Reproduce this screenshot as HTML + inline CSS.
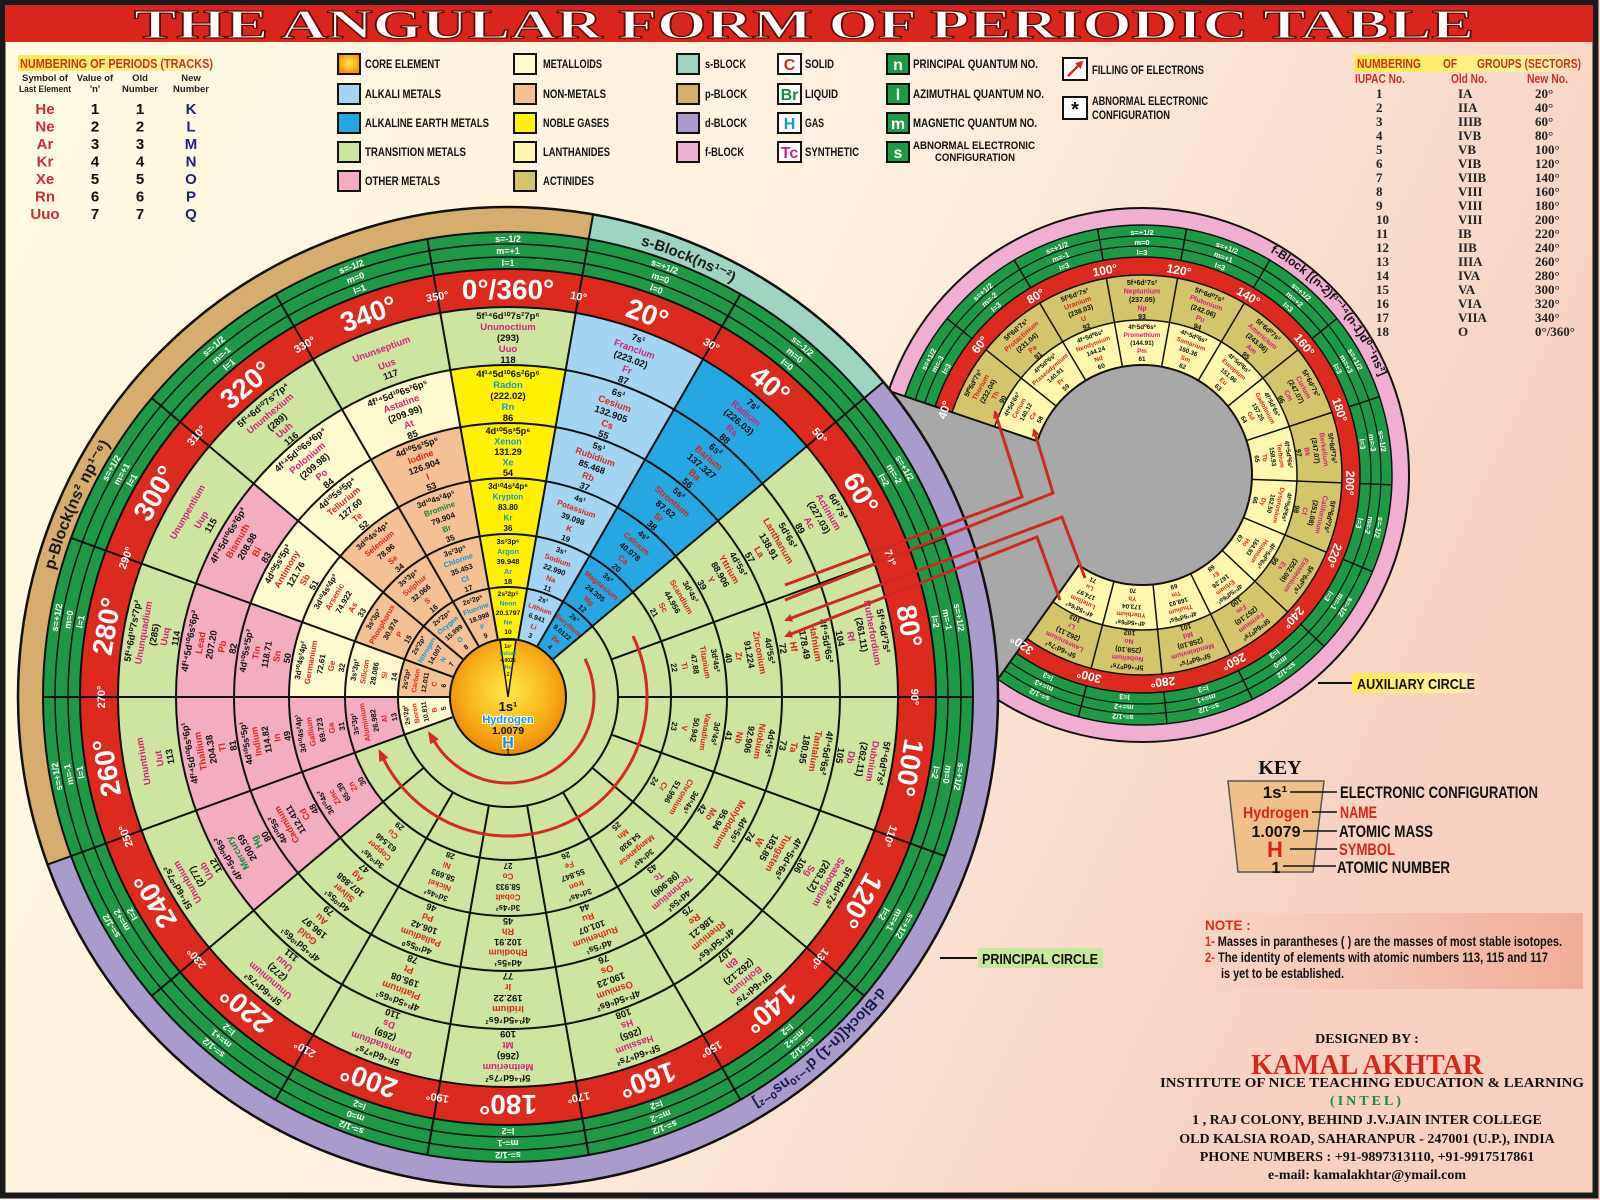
<!DOCTYPE html>
<html><head><meta charset="utf-8"><style>
html,body{margin:0;padding:0;width:1600px;height:1200px;overflow:hidden;position:relative}
svg{display:block;position:absolute;left:0;top:0}
.n{font-family:"Liberation Sans Narrow","Liberation Sans",sans-serif;font-weight:bold}
.sf{font-family:"Liberation Serif",serif;font-weight:bold}
.m{text-anchor:middle}
.c7{font-size:9.5px}.c4{font-size:9px}.c3{font-size:8px}.c2{font-size:6.8px}
.a1{font-size:7px}.a2{font-size:6.3px}
.s{fill:#d7261e}.g{fill:#1596d4}.l{fill:#138a3c}.y{fill:#d1237a}
.gr{font-size:9px;fill:#fff}.rb{font-size:28px;fill:#fff}.rs{font-size:11px;fill:#fff}
.lg{font-size:12px;fill:#111}
</style></head><body>
<svg width="1600" height="1200" viewBox="0 0 1600 1200" xmlns="http://www.w3.org/2000/svg">
<defs>
<linearGradient id="bg" x1="0" y1="0" x2="1" y2="0.35"><stop offset="0" stop-color="#fffbe2"/><stop offset="0.55" stop-color="#fdefdf"/><stop offset="1" stop-color="#f7d0c0"/></linearGradient>
<radialGradient id="core" cx="0.5" cy="0.45" r="0.55"><stop offset="0" stop-color="#ffe84a"/><stop offset="0.6" stop-color="#f9b71c"/><stop offset="1" stop-color="#ee8a05"/></radialGradient>
<linearGradient id="hy" x1="0" x2="1"><stop offset="0" stop-color="#ffe94d"/><stop offset="0.8" stop-color="#fff3a0"/><stop offset="1" stop-color="#fff3a0" stop-opacity="0"/></linearGradient>
<linearGradient id="note" x1="0" x2="1"><stop offset="0" stop-color="#f6c7b6" stop-opacity="0"/><stop offset="0.5" stop-color="#f4c4b2"/><stop offset="1" stop-color="#f0ad97"/></linearGradient>
<marker id="ah" markerWidth="8" markerHeight="8" refX="6" refY="4" orient="auto" markerUnits="userSpaceOnUse"><path d="M0,0 L8,4 L0,8 z" fill="#cc2b22"/></marker>
<path id="pb" d="M44,615 A471,471 0 0 1 426,233"/>
<path id="sb" d="M630,242 A471,471 0 0 1 858,382"/>
<path id="db" d="M894,967 A471,471 0 0 1 549,1166"/>
<path id="fb" d="M1270,252 A257,257 0 0 1 1395,520"/>
</defs>
<rect width="1600" height="1200" fill="url(#bg)"/>
<rect x="2.5" y="2.5" width="1593" height="1193" fill="none" stroke="#1a1a1a" stroke-width="6"/>
<rect x="5" y="5" width="1588" height="37" fill="#d8261e"/>
<text x="134" y="38" class="sf" font-size="41" fill="#fff" stroke="#5a0c08" stroke-width="1.2" textLength="1340" lengthAdjust="spacingAndGlyphs">THE ANGULAR FORM OF PERIODIC TABLE</text>

<!-- Left periods table -->
<rect x="18" y="55" width="197" height="16" fill="url(#hy)"/>
<text x="20" y="68" class="n" font-size="13" fill="#d2321e" textLength="193" lengthAdjust="spacingAndGlyphs">NUMBERING OF PERIODS (TRACKS)</text>
<g class="n m" font-size="9.5" fill="#222">
<text x="45" y="81">Symbol of</text><text x="45" y="92" textLength="52" lengthAdjust="spacingAndGlyphs">Last Element</text>
<text x="95" y="81">Value of</text><text x="95" y="92">'n'</text>
<text x="140" y="81">Old</text><text x="140" y="92">Number</text>
<text x="191" y="81">New</text><text x="191" y="92">Number</text>
</g>
<g class="n m" font-size="15">
<g fill="#c62f3a"><text x="45" y="114">He</text><text x="45" y="131.5">Ne</text><text x="45" y="149">Ar</text><text x="45" y="166.5">Kr</text><text x="45" y="184">Xe</text><text x="45" y="201.5">Rn</text><text x="45" y="219">Uuo</text></g>
<g fill="#111"><text x="95" y="114">1</text><text x="95" y="131.5">2</text><text x="95" y="149">3</text><text x="95" y="166.5">4</text><text x="95" y="184">5</text><text x="95" y="201.5">6</text><text x="95" y="219">7</text>
<text x="140" y="114">1</text><text x="140" y="131.5">2</text><text x="140" y="149">3</text><text x="140" y="166.5">4</text><text x="140" y="184">5</text><text x="140" y="201.5">6</text><text x="140" y="219">7</text></g>
<g fill="#1c237e"><text x="191" y="114">K</text><text x="191" y="131.5">L</text><text x="191" y="149">M</text><text x="191" y="166.5">N</text><text x="191" y="184">O</text><text x="191" y="201.5">P</text><text x="191" y="219">Q</text></g>
</g>

<!-- Legend -->
<g stroke="#111" stroke-width="2">
<rect x="338" y="54" width="22" height="20" fill="url(#core)"/>
<rect x="338" y="84" width="22" height="20" fill="#a3d5f3"/>
<rect x="338" y="113" width="22" height="20" fill="#27a7e1"/>
<rect x="338" y="142" width="22" height="20" fill="#cde5a0"/>
<rect x="338" y="171" width="22" height="20" fill="#f2aec0"/>
<rect x="514" y="54" width="22" height="20" fill="#fff9d0"/>
<rect x="514" y="84" width="22" height="20" fill="#f4c197"/>
<rect x="514" y="113" width="22" height="20" fill="#fff200"/>
<rect x="514" y="142" width="22" height="20" fill="#fff7ae"/>
<rect x="514" y="171" width="22" height="20" fill="#d4c46c"/>
<rect x="677" y="54" width="22" height="20" fill="#9fd5c0"/>
<rect x="677" y="84" width="22" height="20" fill="#d6ad6e"/>
<rect x="677" y="113" width="22" height="20" fill="#a99ccc"/>
<rect x="677" y="142" width="22" height="20" fill="#f0aed0"/>
<rect x="778" y="54" width="23" height="20" fill="#fff"/>
<rect x="778" y="84" width="23" height="20" fill="#fff"/>
<rect x="778" y="113" width="23" height="20" fill="#fff"/>
<rect x="778" y="142" width="23" height="20" fill="#fff"/>
<rect x="887" y="54" width="22" height="20" fill="#1e9a46"/>
<rect x="887" y="84" width="22" height="20" fill="#1e9a46"/>
<rect x="887" y="113" width="22" height="20" fill="#1e9a46"/>
<rect x="887" y="142" width="22" height="20" fill="#1e9a46"/>
<rect x="1063" y="58" width="24" height="22" fill="#fff"/>
<rect x="1063" y="97" width="24" height="22" fill="#fff"/>
</g>
<g class="n lg" lengthAdjust="spacingAndGlyphs">
<text x="365" y="68" textLength="75" lengthAdjust="spacingAndGlyphs">CORE ELEMENT</text>
<text x="365" y="98" textLength="76" lengthAdjust="spacingAndGlyphs">ALKALI METALS</text>
<text x="365" y="127" textLength="124" lengthAdjust="spacingAndGlyphs">ALKALINE EARTH METALS</text>
<text x="365" y="156" textLength="101" lengthAdjust="spacingAndGlyphs">TRANSITION METALS</text>
<text x="365" y="185" textLength="75" lengthAdjust="spacingAndGlyphs">OTHER METALS</text>
<text x="543" y="68" textLength="59" lengthAdjust="spacingAndGlyphs">METALLOIDS</text>
<text x="543" y="98" textLength="63" lengthAdjust="spacingAndGlyphs">NON-METALS</text>
<text x="543" y="127" textLength="66" lengthAdjust="spacingAndGlyphs">NOBLE GASES</text>
<text x="543" y="156" textLength="67" lengthAdjust="spacingAndGlyphs">LANTHANIDES</text>
<text x="543" y="185" textLength="51" lengthAdjust="spacingAndGlyphs">ACTINIDES</text>
<text x="705" y="68" textLength="41" lengthAdjust="spacingAndGlyphs">s-BLOCK</text>
<text x="705" y="98" textLength="42" lengthAdjust="spacingAndGlyphs">p-BLOCK</text>
<text x="705" y="127" textLength="42" lengthAdjust="spacingAndGlyphs">d-BLOCK</text>
<text x="705" y="156" textLength="39" lengthAdjust="spacingAndGlyphs">f-BLOCK</text>
<text x="805" y="68" textLength="29" lengthAdjust="spacingAndGlyphs">SOLID</text>
<text x="805" y="98" textLength="33" lengthAdjust="spacingAndGlyphs">LIQUID</text>
<text x="805" y="127" textLength="19" lengthAdjust="spacingAndGlyphs">GAS</text>
<text x="805" y="156" textLength="54" lengthAdjust="spacingAndGlyphs">SYNTHETIC</text>
<text x="913" y="68" textLength="125" lengthAdjust="spacingAndGlyphs">PRINCIPAL QUANTUM NO.</text>
<text x="913" y="98" textLength="131" lengthAdjust="spacingAndGlyphs">AZIMUTHAL QUANTUM NO.</text>
<text x="913" y="127" textLength="124" lengthAdjust="spacingAndGlyphs">MAGNETIC QUANTUM NO.</text>
<text x="913" y="149" font-size="11" textLength="122" lengthAdjust="spacingAndGlyphs">ABNORMAL ELECTRONIC</text>
<text x="935" y="161" font-size="11" textLength="80" lengthAdjust="spacingAndGlyphs">CONFIGURATION</text>
<text x="1092" y="74" textLength="112" lengthAdjust="spacingAndGlyphs">FILLING OF ELECTRONS</text>
<text x="1092" y="105" textLength="116" lengthAdjust="spacingAndGlyphs">ABNORMAL ELECTRONIC</text>
<text x="1092" y="119" textLength="78" lengthAdjust="spacingAndGlyphs">CONFIGURATION</text>
</g>
<g class="n m" font-size="16">
<text x="789.5" y="70" fill="#d7261e">C</text><text x="789.5" y="100" fill="#138a3c">Br</text><text x="789.5" y="129" fill="#1596d4">H</text><text x="789.5" y="158" fill="#d1237a">Tc</text>
<text x="898" y="70" fill="#fff">n</text><text x="898" y="100" fill="#fff">l</text><text x="898" y="129" fill="#fff">m</text><text x="898" y="158" fill="#fff">s</text>
<text x="1075" y="116" fill="#111" font-size="20">*</text>
</g>
<line x1="1068" y1="76" x2="1082" y2="62" stroke="#cc2b22" stroke-width="2.5" marker-end="url(#ah)"/>

<!-- Right group table -->
<rect x="1354" y="55" width="229" height="17" fill="url(#hy)"/>
<text x="1357" y="68" class="n" font-size="13" fill="#d2321e" textLength="64" lengthAdjust="spacingAndGlyphs">NUMBERING</text><text x="1443" y="68" class="n" font-size="13" fill="#d2321e" textLength="14" lengthAdjust="spacingAndGlyphs">OF</text><text x="1477" y="68" class="n" font-size="13" fill="#d2321e" textLength="104" lengthAdjust="spacingAndGlyphs">GROUPS (SECTORS)</text>
<g class="n" font-size="12.5" fill="#c8302a"><text x="1355" y="83" textLength="50" lengthAdjust="spacingAndGlyphs">IUPAC No.</text><text x="1451" y="83" textLength="36" lengthAdjust="spacingAndGlyphs">Old No.</text><text x="1527" y="83" textLength="41" lengthAdjust="spacingAndGlyphs">New No.</text></g>
<g class="sf" font-size="13" fill="#222">
<text x="1376" y="98">1</text><text x="1458" y="98">IA</text><text x="1535" y="98">20°</text>
<text x="1376" y="112">2</text><text x="1458" y="112">IIA</text><text x="1535" y="112">40°</text>
<text x="1376" y="126">3</text><text x="1458" y="126">IIIB</text><text x="1535" y="126">60°</text>
<text x="1376" y="140">4</text><text x="1458" y="140">IVB</text><text x="1535" y="140">80°</text>
<text x="1376" y="154">5</text><text x="1458" y="154">VB</text><text x="1535" y="154">100°</text>
<text x="1376" y="168">6</text><text x="1458" y="168">VIB</text><text x="1535" y="168">120°</text>
<text x="1376" y="182">7</text><text x="1458" y="182">VIIB</text><text x="1535" y="182">140°</text>
<text x="1376" y="196">8</text><text x="1458" y="196">VIII</text><text x="1535" y="196">160°</text>
<text x="1376" y="210">9</text><text x="1458" y="210">VIII</text><text x="1535" y="210">180°</text>
<text x="1376" y="224">10</text><text x="1458" y="224">VIII</text><text x="1535" y="224">200°</text>
<text x="1376" y="238">11</text><text x="1458" y="238">IB</text><text x="1535" y="238">220°</text>
<text x="1376" y="252">12</text><text x="1458" y="252">IIB</text><text x="1535" y="252">240°</text>
<text x="1376" y="266">13</text><text x="1458" y="266">IIIA</text><text x="1535" y="266">260°</text>
<text x="1376" y="280">14</text><text x="1458" y="280">IVA</text><text x="1535" y="280">280°</text>
<text x="1376" y="294">15</text><text x="1458" y="294">VA</text><text x="1535" y="294">300°</text>
<text x="1376" y="308">16</text><text x="1458" y="308">VIA</text><text x="1535" y="308">320°</text>
<text x="1376" y="322">17</text><text x="1458" y="322">VIIA</text><text x="1535" y="322">340°</text>
<text x="1376" y="336">18</text><text x="1458" y="336">O</text><text x="1535" y="336">0°/360°</text>
</g>

<!-- ================= AUXILIARY CIRCLE ================= -->
<g>
<circle cx="1142" cy="475" r="267" fill="#f0aed0"/>
<circle cx="1142" cy="475" r="250" fill="#1e9a46"/>
<circle cx="1142" cy="475" r="218" fill="#dd2a1f"/>
<circle cx="1142" cy="475" r="200" fill="#d4c46c"/>
<circle cx="1142" cy="475" r="155" fill="#fff7ae"/>
<circle cx="1142" cy="475" r="110" fill="#a8a8a8"/>
<g fill="none" stroke="#111">
<circle cx="1142" cy="475" r="267" stroke-width="2"/>
<circle cx="1142" cy="475" r="250" stroke-width="1.5"/>
<circle cx="1142" cy="475" r="239" stroke-width="1.2"/>
<circle cx="1142" cy="475" r="229" stroke-width="1.2"/>
<circle cx="1142" cy="475" r="218" stroke-width="1.5"/>
<circle cx="1142" cy="475" r="200" stroke-width="1.5"/>
<circle cx="1142" cy="475" r="155" stroke-width="1.5"/>
<circle cx="1142" cy="475" r="110" stroke-width="2"/>
</g>
<g stroke="#111" stroke-width="1.5">
<g transform="rotate(308.75 1142 475)"><line x1="1142" y1="365" x2="1142" y2="275"/><line x1="1142" y1="257" x2="1142" y2="225"/></g>
<g transform="rotate(329.25 1142 475)"><line x1="1142" y1="365" x2="1142" y2="275"/><line x1="1142" y1="257" x2="1142" y2="225"/></g>
<g transform="rotate(349.75 1142 475)"><line x1="1142" y1="365" x2="1142" y2="275"/><line x1="1142" y1="257" x2="1142" y2="225"/></g>
<g transform="rotate(370.25 1142 475)"><line x1="1142" y1="365" x2="1142" y2="275"/><line x1="1142" y1="257" x2="1142" y2="225"/></g>
<g transform="rotate(390.75 1142 475)"><line x1="1142" y1="365" x2="1142" y2="275"/><line x1="1142" y1="257" x2="1142" y2="225"/></g>
<g transform="rotate(411.25 1142 475)"><line x1="1142" y1="365" x2="1142" y2="275"/><line x1="1142" y1="257" x2="1142" y2="225"/></g>
<g transform="rotate(431.75 1142 475)"><line x1="1142" y1="365" x2="1142" y2="275"/><line x1="1142" y1="257" x2="1142" y2="225"/></g>
<g transform="rotate(452.25 1142 475)"><line x1="1142" y1="365" x2="1142" y2="275"/><line x1="1142" y1="257" x2="1142" y2="225"/></g>
<g transform="rotate(472.75 1142 475)"><line x1="1142" y1="365" x2="1142" y2="275"/><line x1="1142" y1="257" x2="1142" y2="225"/></g>
<g transform="rotate(493.25 1142 475)"><line x1="1142" y1="365" x2="1142" y2="275"/><line x1="1142" y1="257" x2="1142" y2="225"/></g>
<g transform="rotate(513.75 1142 475)"><line x1="1142" y1="365" x2="1142" y2="275"/><line x1="1142" y1="257" x2="1142" y2="225"/></g>
<g transform="rotate(534.25 1142 475)"><line x1="1142" y1="365" x2="1142" y2="275"/><line x1="1142" y1="257" x2="1142" y2="225"/></g>
<g transform="rotate(554.75 1142 475)"><line x1="1142" y1="365" x2="1142" y2="275"/><line x1="1142" y1="257" x2="1142" y2="225"/></g>
</g>
<polygon points="1142,475 667,318 672,646 853,883" fill="#a8a8a8"/>
<g stroke="#111" stroke-width="2"><line x1="1037" y1="441" x2="889" y2="391"/><line x1="1079" y1="565" x2="988" y2="693"/></g>
<text class="n" font-size="12" fill="#111"><textPath href="#fb">f-Block [(n-2)f¹⁻¹⁴(n-1)d⁰⁻¹ns²]</textPath></text>
<g class="n m" font-size="12" fill="#fff">
<text x="1142" y="271" transform="rotate(288.25 1142 475)">40°</text>
<text x="1142" y="271" transform="rotate(308.75 1142 475)">60°</text>
<text x="1142" y="271" transform="rotate(329.25 1142 475)">80°</text>
<text x="1142" y="271" transform="rotate(349.75 1142 475)">100°</text>
<text x="1142" y="271" transform="rotate(370.25 1142 475)">120°</text>
<text x="1142" y="271" transform="rotate(390.75 1142 475)">140°</text>
<text x="1142" y="271" transform="rotate(411.25 1142 475)">160°</text>
<text x="1142" y="271" transform="rotate(431.75 1142 475)">180°</text>
<text x="1142" y="271" transform="rotate(452.25 1142 475)">200°</text>
<text x="1142" y="271" transform="rotate(472.75 1142 475)">220°</text>
<text x="1142" y="271" transform="rotate(493.25 1142 475)">240°</text>
<text x="1142" y="271" transform="rotate(513.75 1142 475)">260°</text>
<text x="1142" y="271" transform="rotate(534.25 1142 475)">280°</text>
<text x="1142" y="271" transform="rotate(554.75 1142 475)">300°</text>
<text x="1142" y="271" transform="rotate(575.25 1142 475)">320°</text>
</g>
<g class="n m" font-size="7.5" fill="#fff">
<g transform="rotate(298.5 1142 475)"><text x="1142" y="235">s=+1/2</text><text x="1142" y="245">m=-3</text><text x="1142" y="255">l=3</text></g>
<g transform="rotate(319 1142 475)"><text x="1142" y="235">s=+1/2</text><text x="1142" y="245">m=-2</text><text x="1142" y="255">l=3</text></g>
<g transform="rotate(339.5 1142 475)"><text x="1142" y="235">s=+1/2</text><text x="1142" y="245">m=-1</text><text x="1142" y="255">l=3</text></g>
<g transform="rotate(360 1142 475)"><text x="1142" y="235">s=+1/2</text><text x="1142" y="245">m=0</text><text x="1142" y="255">l=3</text></g>
<g transform="rotate(380.5 1142 475)"><text x="1142" y="235">s=+1/2</text><text x="1142" y="245">m=+1</text><text x="1142" y="255">l=3</text></g>
<g transform="rotate(401 1142 475)"><text x="1142" y="235">s=+1/2</text><text x="1142" y="245">m=+2</text><text x="1142" y="255">l=3</text></g>
<g transform="rotate(421.5 1142 475)"><text x="1142" y="235">s=+1/2</text><text x="1142" y="245">m=+3</text><text x="1142" y="255">l=3</text></g>
<g transform="rotate(442 1142 475)"><text x="1142" y="235">s=-1/2</text><text x="1142" y="245">m=-3</text><text x="1142" y="255">l=3</text></g>
<g transform="rotate(462.5 1142 475)"><text x="1142" y="235">s=-1/2</text><text x="1142" y="245">m=-2</text><text x="1142" y="255">l=3</text></g>
<g transform="rotate(483 1142 475)"><text x="1142" y="235">s=-1/2</text><text x="1142" y="245">m=-1</text><text x="1142" y="255">l=3</text></g>
<g transform="rotate(503.5 1142 475)"><text x="1142" y="235">s=-1/2</text><text x="1142" y="245">m=0</text><text x="1142" y="255">l=3</text></g>
<g transform="rotate(524 1142 475)"><text x="1142" y="235">s=-1/2</text><text x="1142" y="245">m=+1</text><text x="1142" y="255">l=3</text></g>
<g transform="rotate(544.5 1142 475)"><text x="1142" y="235">s=-1/2</text><text x="1142" y="245">m=+2</text><text x="1142" y="255">l=3</text></g>
<g transform="rotate(565 1142 475)"><text x="1142" y="235">s=-1/2</text><text x="1142" y="245">m=+3</text><text x="1142" y="255">l=3</text></g>
</g>
<g class="n m" fill="#111">
<g transform="rotate(298.5 1142 475)"><text class="a1" y="285"><tspan x="1142">5f⁰6d²7s²</tspan><tspan x="1142" dy="8.5" class="s">Thorium</tspan><tspan x="1142" dy="8.5">(232.04)</tspan><tspan x="1142" dy="8.5" class="s">Th</tspan><tspan x="1142" dy="8.5">90</tspan></text><text class="a2" y="329"><tspan x="1142">4f¹5d¹6s²</tspan><tspan x="1142" dy="8" class="s">Cerium</tspan><tspan x="1142" dy="8">140.12</tspan><tspan x="1142" dy="8" class="s">Ce</tspan><tspan x="1142" dy="8">58</tspan></text></g>
<g transform="rotate(319 1142 475)"><text class="a1" y="285"><tspan x="1142">5f²6d¹7s²</tspan><tspan x="1142" dy="8.5" class="s">Protactinium</tspan><tspan x="1142" dy="8.5">(231.04)</tspan><tspan x="1142" dy="8.5" class="s">Pa</tspan><tspan x="1142" dy="8.5">91</tspan></text><text class="a2" y="329"><tspan x="1142">4f³5d⁰6s²</tspan><tspan x="1142" dy="8" class="s">Praseodymium</tspan><tspan x="1142" dy="8">140.91</tspan><tspan x="1142" dy="8" class="s">Pr</tspan><tspan x="1142" dy="8">59</tspan></text></g>
<g transform="rotate(339.5 1142 475)"><text class="a1" y="285"><tspan x="1142">5f³6d¹7s²</tspan><tspan x="1142" dy="8.5" class="s">Uranium</tspan><tspan x="1142" dy="8.5">(238.03)</tspan><tspan x="1142" dy="8.5" class="s">U</tspan><tspan x="1142" dy="8.5">92</tspan></text><text class="a2" y="329"><tspan x="1142">4f⁴5d⁰6s²</tspan><tspan x="1142" dy="8" class="s">Neodymium</tspan><tspan x="1142" dy="8">144.24</tspan><tspan x="1142" dy="8" class="s">Nd</tspan><tspan x="1142" dy="8">60</tspan></text></g>
<g transform="rotate(360 1142 475)"><text class="a1" y="285"><tspan x="1142">5f⁴6d¹7s²</tspan><tspan x="1142" dy="8.5" class="y">Neptunium</tspan><tspan x="1142" dy="8.5">(237.05)</tspan><tspan x="1142" dy="8.5" class="y">Np</tspan><tspan x="1142" dy="8.5">93</tspan></text><text class="a2" y="329"><tspan x="1142">4f⁵5d⁰6s²</tspan><tspan x="1142" dy="8" class="y">Promethium</tspan><tspan x="1142" dy="8">(144.91)</tspan><tspan x="1142" dy="8" class="y">Pm</tspan><tspan x="1142" dy="8">61</tspan></text></g>
<g transform="rotate(380.5 1142 475)"><text class="a1" y="285"><tspan x="1142">5f⁶6d⁰7s²</tspan><tspan x="1142" dy="8.5" class="y">Plutonium</tspan><tspan x="1142" dy="8.5">(242.06)</tspan><tspan x="1142" dy="8.5" class="y">Pu</tspan><tspan x="1142" dy="8.5">94</tspan></text><text class="a2" y="329"><tspan x="1142">4f⁶5d⁰6s²</tspan><tspan x="1142" dy="8" class="s">Samarium</tspan><tspan x="1142" dy="8">150.36</tspan><tspan x="1142" dy="8" class="s">Sm</tspan><tspan x="1142" dy="8">62</tspan></text></g>
<g transform="rotate(401 1142 475)"><text class="a1" y="285"><tspan x="1142">5f⁷6d⁰7s²</tspan><tspan x="1142" dy="8.5" class="y">Americium</tspan><tspan x="1142" dy="8.5">(243.06)</tspan><tspan x="1142" dy="8.5" class="y">Am</tspan><tspan x="1142" dy="8.5">95</tspan></text><text class="a2" y="329"><tspan x="1142">4f⁷5d⁰6s²</tspan><tspan x="1142" dy="8" class="s">Europium</tspan><tspan x="1142" dy="8">151.96</tspan><tspan x="1142" dy="8" class="s">Eu</tspan><tspan x="1142" dy="8">63</tspan></text></g>
<g transform="rotate(421.5 1142 475)"><text class="a1" y="285"><tspan x="1142">5f⁷6d¹7s²</tspan><tspan x="1142" dy="8.5" class="y">Curium</tspan><tspan x="1142" dy="8.5">(247.07)</tspan><tspan x="1142" dy="8.5" class="y">Cm</tspan><tspan x="1142" dy="8.5">96</tspan></text><text class="a2" y="329"><tspan x="1142">4f⁷5d¹6s²</tspan><tspan x="1142" dy="8" class="s">Gadolinium</tspan><tspan x="1142" dy="8">157.25</tspan><tspan x="1142" dy="8" class="s">Gd</tspan><tspan x="1142" dy="8">64</tspan></text></g>
<g transform="rotate(442 1142 475)"><text class="a1" y="285"><tspan x="1142">5f⁹6d⁰7s²</tspan><tspan x="1142" dy="8.5" class="y">Berkelium</tspan><tspan x="1142" dy="8.5">(247.07)</tspan><tspan x="1142" dy="8.5" class="y">Bk</tspan><tspan x="1142" dy="8.5">97</tspan></text><text class="a2" y="329"><tspan x="1142">4f⁹5d⁰6s²</tspan><tspan x="1142" dy="8" class="s">Terbium</tspan><tspan x="1142" dy="8">158.93</tspan><tspan x="1142" dy="8" class="s">Tb</tspan><tspan x="1142" dy="8">65</tspan></text></g>
<g transform="rotate(462.5 1142 475)"><text class="a1" y="285"><tspan x="1142">5f¹⁰6d⁰7s²</tspan><tspan x="1142" dy="8.5" class="y">Californium</tspan><tspan x="1142" dy="8.5">(251.08)</tspan><tspan x="1142" dy="8.5" class="y">Cf</tspan><tspan x="1142" dy="8.5">98</tspan></text><text class="a2" y="329"><tspan x="1142">4f¹⁰5d⁰6s²</tspan><tspan x="1142" dy="8" class="s">Dysprosium</tspan><tspan x="1142" dy="8">162.50</tspan><tspan x="1142" dy="8" class="s">Dy</tspan><tspan x="1142" dy="8">66</tspan></text></g>
<g transform="rotate(483 1142 475)"><text class="a1" y="285"><tspan x="1142">5f¹¹6d⁰7s²</tspan><tspan x="1142" dy="8.5" class="y">Einsteinium</tspan><tspan x="1142" dy="8.5">(252.08)</tspan><tspan x="1142" dy="8.5" class="y">Es</tspan><tspan x="1142" dy="8.5">99</tspan></text><text class="a2" y="329"><tspan x="1142">4f¹¹5d⁰6s²</tspan><tspan x="1142" dy="8" class="s">Holmium</tspan><tspan x="1142" dy="8">164.93</tspan><tspan x="1142" dy="8" class="s">Ho</tspan><tspan x="1142" dy="8">67</tspan></text></g>
<g transform="rotate(503.5 1142 475)"><text class="a1" y="285"><tspan x="1142">5f¹²6d⁰7s²</tspan><tspan x="1142" dy="8.5" class="y">Fermium</tspan><tspan x="1142" dy="8.5">(257.10)</tspan><tspan x="1142" dy="8.5" class="y">Fm</tspan><tspan x="1142" dy="8.5">100</tspan></text><text class="a2" y="329"><tspan x="1142">4f¹²5d⁰6s²</tspan><tspan x="1142" dy="8" class="s">Erbium</tspan><tspan x="1142" dy="8">167.26</tspan><tspan x="1142" dy="8" class="s">Er</tspan><tspan x="1142" dy="8">68</tspan></text></g>
<g transform="rotate(524 1142 475)"><text class="a1" y="285"><tspan x="1142">5f¹³6d⁰7s²</tspan><tspan x="1142" dy="8.5" class="y">Mendelevium</tspan><tspan x="1142" dy="8.5">(258.10)</tspan><tspan x="1142" dy="8.5" class="y">Md</tspan><tspan x="1142" dy="8.5">101</tspan></text><text class="a2" y="329"><tspan x="1142">4f¹³5d⁰6s²</tspan><tspan x="1142" dy="8" class="s">Thulium</tspan><tspan x="1142" dy="8">168.93</tspan><tspan x="1142" dy="8" class="s">Tm</tspan><tspan x="1142" dy="8">69</tspan></text></g>
<g transform="rotate(544.5 1142 475)"><text class="a1" y="285"><tspan x="1142">5f¹⁴6d⁰7s²</tspan><tspan x="1142" dy="8.5" class="y">Nobelium</tspan><tspan x="1142" dy="8.5">(259.10)</tspan><tspan x="1142" dy="8.5" class="y">No</tspan><tspan x="1142" dy="8.5">102</tspan></text><text class="a2" y="329"><tspan x="1142">4f¹⁴5d⁰6s²</tspan><tspan x="1142" dy="8" class="s">Ytterbium</tspan><tspan x="1142" dy="8">173.04</tspan><tspan x="1142" dy="8" class="s">Yb</tspan><tspan x="1142" dy="8">70</tspan></text></g>
<g transform="rotate(565 1142 475)"><text class="a1" y="285"><tspan x="1142">5f¹⁴6d¹7s²</tspan><tspan x="1142" dy="8.5" class="y">Lawrencium</tspan><tspan x="1142" dy="8.5">(262.11)</tspan><tspan x="1142" dy="8.5" class="y">Lr</tspan><tspan x="1142" dy="8.5">103</tspan></text><text class="a2" y="329"><tspan x="1142">4f¹⁴5d¹6s²</tspan><tspan x="1142" dy="8" class="s">Lutetium</tspan><tspan x="1142" dy="8">174.97</tspan><tspan x="1142" dy="8" class="s">Lu</tspan><tspan x="1142" dy="8">71</tspan></text></g>
</g>
</g>

<!-- ================= MAIN CIRCLE ================= -->
<g>
<circle cx="508" cy="697" r="477.5" fill="none" stroke="#d6ad6e" stroke-width="25" pathLength="360" stroke-dasharray="120 240" transform="rotate(160 508 697)"/>
<circle cx="508" cy="697" r="477.5" fill="none" stroke="#9fd5c0" stroke-width="25" pathLength="360" stroke-dasharray="40 320" transform="rotate(-80 508 697)"/>
<circle cx="508" cy="697" r="477.5" fill="none" stroke="#a99ccc" stroke-width="25" pathLength="360" stroke-dasharray="200 160" transform="rotate(-40 508 697)"/>
<circle cx="508" cy="697" r="465" fill="#1e9a46"/>
<circle cx="508" cy="697" r="428" fill="#dd2a1f"/>
<circle cx="508" cy="697" r="390" fill="#cde5a0"/>
<g fill="none">
<circle cx="508" cy="697" r="224.5" stroke="#a3d5f3" stroke-width="331" pathLength="360" stroke-dasharray="20 340" transform="rotate(-80 508 697)"/>
<circle cx="508" cy="697" r="224.5" stroke="#27a7e1" stroke-width="331" pathLength="360" stroke-dasharray="20 340" transform="rotate(-60 508 697)"/>
<circle cx="508" cy="697" r="195.5" stroke="#fff200" stroke-width="273" pathLength="360" stroke-dasharray="20 340" transform="rotate(-100 508 697)"/>
<circle cx="508" cy="697" r="303" stroke="#fff9d0" stroke-width="58" pathLength="360" stroke-dasharray="20 340" transform="rotate(240 508 697)"/>
<circle cx="508" cy="697" r="166.5" stroke="#f4c197" stroke-width="215" pathLength="360" stroke-dasharray="20 340" transform="rotate(240 508 697)"/>
<circle cx="508" cy="697" r="275.5" stroke="#fff9d0" stroke-width="113" pathLength="360" stroke-dasharray="20 340" transform="rotate(220 508 697)"/>
<circle cx="508" cy="697" r="139" stroke="#f4c197" stroke-width="160" pathLength="360" stroke-dasharray="20 340" transform="rotate(220 508 697)"/>
<circle cx="508" cy="697" r="303" stroke="#f2aec0" stroke-width="58" pathLength="360" stroke-dasharray="20 340" transform="rotate(200 508 697)"/>
<circle cx="508" cy="697" r="218.5" stroke="#fff9d0" stroke-width="111" pathLength="360" stroke-dasharray="20 340" transform="rotate(200 508 697)"/>
<circle cx="508" cy="697" r="111" stroke="#f4c197" stroke-width="104" pathLength="360" stroke-dasharray="20 340" transform="rotate(200 508 697)"/>
<circle cx="508" cy="697" r="275.5" stroke="#f2aec0" stroke-width="113" pathLength="360" stroke-dasharray="20 340" transform="rotate(180 508 697)"/>
<circle cx="508" cy="697" r="164.5" stroke="#fff9d0" stroke-width="109" pathLength="360" stroke-dasharray="20 340" transform="rotate(180 508 697)"/>
<circle cx="508" cy="697" r="84.5" stroke="#f4c197" stroke-width="51" pathLength="360" stroke-dasharray="20 340" transform="rotate(180 508 697)"/>
<circle cx="508" cy="697" r="221" stroke="#f2aec0" stroke-width="222" pathLength="360" stroke-dasharray="20 340" transform="rotate(160 508 697)"/>
<circle cx="508" cy="697" r="84.5" stroke="#fff9d0" stroke-width="51" pathLength="360" stroke-dasharray="20 340" transform="rotate(160 508 697)"/>
<circle cx="508" cy="697" r="247.5" stroke="#f2aec0" stroke-width="169" pathLength="360" stroke-dasharray="20 340" transform="rotate(140 508 697)"/>
</g>
<g fill="none" stroke="#111">
<circle cx="508" cy="697" r="490" stroke-width="2.5"/>
<circle cx="508" cy="697" r="465" stroke-width="2"/>
<circle cx="508" cy="697" r="453" stroke-width="1.5"/>
<circle cx="508" cy="697" r="440" stroke-width="1.5"/>
<circle cx="508" cy="697" r="428" stroke-width="2"/>
<circle cx="508" cy="697" r="390" stroke-width="2"/>
<circle cx="508" cy="697" r="332" stroke-width="2"/>
<circle cx="508" cy="697" r="274" stroke-width="2"/>
<circle cx="508" cy="697" r="219" stroke-width="2"/>
<circle cx="508" cy="697" r="163" stroke-width="2"/>
<circle cx="508" cy="697" r="110" stroke-width="2"/>
</g>
<g stroke="#111" stroke-width="2">
<line x1="508" y1="638" x2="508" y2="232" transform="rotate(10 508 697)"/>
<line x1="508" y1="638" x2="508" y2="232" transform="rotate(30 508 697)"/>
<line x1="508" y1="638" x2="508" y2="232" transform="rotate(50 508 697)"/>
<line x1="508" y1="587" x2="508" y2="232" transform="rotate(70 508 697)"/>
<line x1="508" y1="587" x2="508" y2="232" transform="rotate(90 508 697)"/>
<line x1="508" y1="587" x2="508" y2="232" transform="rotate(110 508 697)"/>
<line x1="508" y1="587" x2="508" y2="232" transform="rotate(130 508 697)"/>
<line x1="508" y1="587" x2="508" y2="232" transform="rotate(150 508 697)"/>
<line x1="508" y1="587" x2="508" y2="232" transform="rotate(170 508 697)"/>
<line x1="508" y1="587" x2="508" y2="232" transform="rotate(190 508 697)"/>
<line x1="508" y1="587" x2="508" y2="232" transform="rotate(210 508 697)"/>
<line x1="508" y1="587" x2="508" y2="232" transform="rotate(230 508 697)"/>
<line x1="508" y1="638" x2="508" y2="232" transform="rotate(250 508 697)"/>
<line x1="508" y1="638" x2="508" y2="232" transform="rotate(270 508 697)"/>
<line x1="508" y1="638" x2="508" y2="232" transform="rotate(290 508 697)"/>
<line x1="508" y1="638" x2="508" y2="232" transform="rotate(310 508 697)"/>
<line x1="508" y1="638" x2="508" y2="232" transform="rotate(330 508 697)"/>
<line x1="508" y1="638" x2="508" y2="232" transform="rotate(350 508 697)"/>
<line x1="508" y1="232" x2="508" y2="207" transform="rotate(10 508 697)"/>
<line x1="508" y1="232" x2="508" y2="207" transform="rotate(50 508 697)"/>
<line x1="508" y1="232" x2="508" y2="207" transform="rotate(250 508 697)"/>
</g>
<g fill="none" stroke="#d42a20" stroke-width="3">
<circle cx="508" cy="697" r="86" pathLength="360" stroke-dasharray="176 184" transform="rotate(-26 508 697)"/>
<circle cx="508" cy="697" r="139" pathLength="360" stroke-dasharray="180 180" transform="rotate(-26 508 697)"/>
</g>
<polygon points="428,731 430.2,744.2 438.8,739.2" fill="#d42a20"/>
<polygon points="378.6,749 379.4,762 388.4,757.6" fill="#d42a20"/>
<text class="n" font-size="16" fill="#1a1a1a"><textPath href="#pb" startOffset="8%">p-Block(ns² np¹⁻⁶)</textPath></text>
<text class="n" font-size="15" fill="#1a1a1a"><textPath href="#sb" startOffset="4%">s-Block(ns¹⁻²)</textPath></text>
<text class="n" font-size="15" fill="#1a1a4a"><textPath href="#db" startOffset="6%">d-Block[(n-1) d¹⁻¹⁰ns⁰⁻²]</textPath></text>
<g class="n m">
<text class="rb" x="508" y="299" transform="rotate(0 508 697)">0°/360°</text>
<text class="rb" x="508" y="299" transform="rotate(20 508 697)">20°</text>
<text class="rb" x="508" y="299" transform="rotate(40 508 697)">40°</text>
<text class="rb" x="508" y="299" transform="rotate(60 508 697)">60°</text>
<text class="rb" x="508" y="299" transform="rotate(80 508 697)">80°</text>
<text class="rb" x="508" y="299" transform="rotate(100 508 697)">100°</text>
<text class="rb" x="508" y="299" transform="rotate(120 508 697)">120°</text>
<text class="rb" x="508" y="299" transform="rotate(140 508 697)">140°</text>
<text class="rb" x="508" y="299" transform="rotate(160 508 697)">160°</text>
<text class="rb" x="508" y="299" transform="rotate(180 508 697)">180°</text>
<text class="rb" x="508" y="299" transform="rotate(200 508 697)">200°</text>
<text class="rb" x="508" y="299" transform="rotate(220 508 697)">220°</text>
<text class="rb" x="508" y="299" transform="rotate(240 508 697)">240°</text>
<text class="rb" x="508" y="299" transform="rotate(260 508 697)">260°</text>
<text class="rb" x="508" y="299" transform="rotate(280 508 697)">280°</text>
<text class="rb" x="508" y="299" transform="rotate(300 508 697)">300°</text>
<text class="rb" x="508" y="299" transform="rotate(320 508 697)">320°</text>
<text class="rb" x="508" y="299" transform="rotate(340 508 697)">340°</text>
<text class="rs" x="508" y="294" transform="rotate(10 508 697)">10°</text>
<text class="rs" x="508" y="294" transform="rotate(30 508 697)">30°</text>
<text class="rs" x="508" y="294" transform="rotate(50 508 697)">50°</text>
<text class="rs" x="508" y="294" transform="rotate(70 508 697)">70°</text>
<text class="rs" x="508" y="294" transform="rotate(90 508 697)">90°</text>
<text class="rs" x="508" y="294" transform="rotate(110 508 697)">110°</text>
<text class="rs" x="508" y="294" transform="rotate(130 508 697)">130°</text>
<text class="rs" x="508" y="294" transform="rotate(150 508 697)">150°</text>
<text class="rs" x="508" y="294" transform="rotate(170 508 697)">170°</text>
<text class="rs" x="508" y="294" transform="rotate(190 508 697)">190°</text>
<text class="rs" x="508" y="294" transform="rotate(210 508 697)">210°</text>
<text class="rs" x="508" y="294" transform="rotate(230 508 697)">230°</text>
<text class="rs" x="508" y="294" transform="rotate(250 508 697)">250°</text>
<text class="rs" x="508" y="294" transform="rotate(270 508 697)">270°</text>
<text class="rs" x="508" y="294" transform="rotate(290 508 697)">290°</text>
<text class="rs" x="508" y="294" transform="rotate(310 508 697)">310°</text>
<text class="rs" x="508" y="294" transform="rotate(330 508 697)">330°</text>
<text class="rs" x="508" y="294" transform="rotate(350 508 697)">350°</text>
</g>
<g class="n m gr">
<g transform="rotate(0 508 697)"><text x="508" y="242">s=-1/2</text><text x="508" y="254">m=+1</text><text x="508" y="266">l=1</text></g>
<g transform="rotate(20 508 697)"><text x="508" y="242">s=+1/2</text><text x="508" y="254">m=0</text><text x="508" y="266">l=0</text></g>
<g transform="rotate(40 508 697)"><text x="508" y="242">s=-1/2</text><text x="508" y="254">m=0</text><text x="508" y="266">l=0</text></g>
<g transform="rotate(60 508 697)"><text x="508" y="242">s=+1/2</text><text x="508" y="254">m=-2</text><text x="508" y="266">l=2</text></g>
<g transform="rotate(80 508 697)"><text x="508" y="242">s=+1/2</text><text x="508" y="254">m=-1</text><text x="508" y="266">l=2</text></g>
<g transform="rotate(100 508 697)"><text x="508" y="242">s=+1/2</text><text x="508" y="254">m=0</text><text x="508" y="266">l=2</text></g>
<g transform="rotate(120 508 697)"><text x="508" y="242">s=+1/2</text><text x="508" y="254">m=+1</text><text x="508" y="266">l=2</text></g>
<g transform="rotate(140 508 697)"><text x="508" y="242">s=+1/2</text><text x="508" y="254">m=+2</text><text x="508" y="266">l=2</text></g>
<g transform="rotate(160 508 697)"><text x="508" y="242">s=-1/2</text><text x="508" y="254">m=-2</text><text x="508" y="266">l=2</text></g>
<g transform="rotate(180 508 697)"><text x="508" y="242">s=-1/2</text><text x="508" y="254">m=-1</text><text x="508" y="266">l=2</text></g>
<g transform="rotate(200 508 697)"><text x="508" y="242">s=-1/2</text><text x="508" y="254">m=0</text><text x="508" y="266">l=2</text></g>
<g transform="rotate(220 508 697)"><text x="508" y="242">s=-1/2</text><text x="508" y="254">m=+1</text><text x="508" y="266">l=2</text></g>
<g transform="rotate(240 508 697)"><text x="508" y="242">s=-1/2</text><text x="508" y="254">m=+2</text><text x="508" y="266">l=2</text></g>
<g transform="rotate(260 508 697)"><text x="508" y="242">s=+1/2</text><text x="508" y="254">m=-1</text><text x="508" y="266">l=1</text></g>
<g transform="rotate(280 508 697)"><text x="508" y="242">s=+1/2</text><text x="508" y="254">m=0</text><text x="508" y="266">l=1</text></g>
<g transform="rotate(300 508 697)"><text x="508" y="242">s=+1/2</text><text x="508" y="254">m=+1</text><text x="508" y="266">l=1</text></g>
<g transform="rotate(320 508 697)"><text x="508" y="242">s=-1/2</text><text x="508" y="254">m=-1</text><text x="508" y="266">l=1</text></g>
<g transform="rotate(340 508 697)"><text x="508" y="242">s=-1/2</text><text x="508" y="254">m=0</text><text x="508" y="266">l=1</text></g>
</g>

<!-- period 7 -->
<g class="n m c7" fill="#111">
<g transform="rotate(20 508 697)"><text y="319"><tspan x="508">7s¹</tspan><tspan x="508" dy="11" class="y">Francium</tspan><tspan x="508" dy="11">(223.02)</tspan><tspan x="508" dy="11" class="y">Fr</tspan><tspan x="508" dy="11">87</tspan></text></g>
<g transform="rotate(40 508 697)"><text y="319"><tspan x="508">7s²</tspan><tspan x="508" dy="11" class="y">Radium</tspan><tspan x="508" dy="11">(226.03)</tspan><tspan x="508" dy="11" class="y">Ra</tspan><tspan x="508" dy="11">88</tspan></text></g>
<g transform="rotate(60 508 697)"><text y="319"><tspan x="508">6d¹7s²</tspan><tspan x="508" dy="11" class="y">Actinium</tspan><tspan x="508" dy="11">(227.03)</tspan><tspan x="508" dy="11" class="y">Ac</tspan><tspan x="508" dy="11">89</tspan></text></g>
<g transform="rotate(80 508 697)"><text y="319"><tspan x="508">5f¹⁴6d²7s²</tspan><tspan x="508" dy="11" class="y">Rutherfordium</tspan><tspan x="508" dy="11">(261.11)</tspan><tspan x="508" dy="11" class="y">Rf</tspan><tspan x="508" dy="11">104</tspan></text></g>
<g transform="rotate(100 508 697)"><text y="319"><tspan x="508">5f¹⁴6d³7s²</tspan><tspan x="508" dy="11" class="y">Dubnium</tspan><tspan x="508" dy="11">(262.11)</tspan><tspan x="508" dy="11" class="y">Db</tspan><tspan x="508" dy="11">105</tspan></text></g>
<g transform="rotate(120 508 697)"><text y="319"><tspan x="508">5f¹⁴6d⁴7s²</tspan><tspan x="508" dy="11" class="y">Seaborgium</tspan><tspan x="508" dy="11">(263.12)</tspan><tspan x="508" dy="11" class="y">Sg</tspan><tspan x="508" dy="11">106</tspan></text></g>
<g transform="rotate(140 508 697)"><text y="319"><tspan x="508">5f¹⁴6d⁵7s²</tspan><tspan x="508" dy="11" class="y">Bohrium</tspan><tspan x="508" dy="11">(262.12)</tspan><tspan x="508" dy="11" class="y">Bh</tspan><tspan x="508" dy="11">107</tspan></text></g>
<g transform="rotate(160 508 697)"><text y="319"><tspan x="508">5f¹⁴6d⁶7s²</tspan><tspan x="508" dy="11" class="y">Hassium</tspan><tspan x="508" dy="11">(265)</tspan><tspan x="508" dy="11" class="y">Hs</tspan><tspan x="508" dy="11">108</tspan></text></g>
<g transform="rotate(180 508 697)"><text y="319"><tspan x="508">5f¹⁴6d⁷7s²</tspan><tspan x="508" dy="11" class="y">Meitnerium</tspan><tspan x="508" dy="11">(266)</tspan><tspan x="508" dy="11" class="y">Mt</tspan><tspan x="508" dy="11">109</tspan></text></g>
<g transform="rotate(200 508 697)"><text y="319"><tspan x="508">5f¹⁴6d⁸7s²</tspan><tspan x="508" dy="11" class="y">Darmstadtium</tspan><tspan x="508" dy="11">(269)</tspan><tspan x="508" dy="11" class="y">Ds</tspan><tspan x="508" dy="11">110</tspan></text></g>
<g transform="rotate(220 508 697)"><text y="319"><tspan x="508">5f¹⁴6d⁹7s²</tspan><tspan x="508" dy="11" class="y">Unununium</tspan><tspan x="508" dy="11">(272)</tspan><tspan x="508" dy="11" class="y">Uuu</tspan><tspan x="508" dy="11">111</tspan></text></g>
<g transform="rotate(240 508 697)"><text y="319"><tspan x="508">5f¹⁴6d¹⁰7s²</tspan><tspan x="508" dy="11" class="y">Ununbium</tspan><tspan x="508" dy="11">(277)</tspan><tspan x="508" dy="11" class="y">Uub</tspan><tspan x="508" dy="11">112</tspan></text></g>
<g transform="rotate(260 508 697)"><text y="330"><tspan x="508" class="y">Ununtrium</tspan><tspan x="508" dy="16" class="y">Uut</tspan><tspan x="508" dy="11">113</tspan></text></g>
<g transform="rotate(280 508 697)"><text y="319"><tspan x="508">5f¹⁴6d¹⁰7s²7p²</tspan><tspan x="508" dy="11" class="y">Ununquadium</tspan><tspan x="508" dy="11">(285)</tspan><tspan x="508" dy="11" class="y">Uuq</tspan><tspan x="508" dy="11">114</tspan></text></g>
<g transform="rotate(300 508 697)"><text y="330"><tspan x="508" class="y">Ununpentium</tspan><tspan x="508" dy="16" class="y">Uup</tspan><tspan x="508" dy="11">115</tspan></text></g>
<g transform="rotate(320 508 697)"><text y="319"><tspan x="508">5f¹⁴6d¹⁰7s²7p⁴</tspan><tspan x="508" dy="11" class="y">Ununhexium</tspan><tspan x="508" dy="11">(289)</tspan><tspan x="508" dy="11" class="y">Uuh</tspan><tspan x="508" dy="11">116</tspan></text></g>
<g transform="rotate(340 508 697)"><text y="330"><tspan x="508" class="y">Ununseptium</tspan><tspan x="508" dy="16" class="y">Uus</tspan><tspan x="508" dy="11">117</tspan></text></g>
<g transform="rotate(0 508 697)"><text y="319"><tspan x="508">5f¹⁴6d¹⁰7s²7p⁶</tspan><tspan x="508" dy="11" class="y">Ununoctium</tspan><tspan x="508" dy="11">(293)</tspan><tspan x="508" dy="11" class="y">Uuo</tspan><tspan x="508" dy="11">118</tspan></text></g>
</g>
<!-- period 6 -->
<g class="n m c7" fill="#111">
<g transform="rotate(20 508 697)"><text y="377"><tspan x="508">6s¹</tspan><tspan x="508" dy="11" class="s">Cesium</tspan><tspan x="508" dy="11">132.905</tspan><tspan x="508" dy="11" class="s">Cs</tspan><tspan x="508" dy="11">55</tspan></text></g>
<g transform="rotate(40 508 697)"><text y="377"><tspan x="508">6s²</tspan><tspan x="508" dy="11" class="s">Barium</tspan><tspan x="508" dy="11">137.327</tspan><tspan x="508" dy="11" class="s">Ba</tspan><tspan x="508" dy="11">56</tspan></text></g>
<g transform="rotate(60 508 697)"><text y="377"><tspan x="508">5d¹6s²</tspan><tspan x="508" dy="11" class="s">Lanthanum</tspan><tspan x="508" dy="11">138.91</tspan><tspan x="508" dy="11" class="s">La</tspan><tspan x="508" dy="11">57</tspan></text></g>
<g transform="rotate(80 508 697)"><text y="377"><tspan x="508">4f¹⁴5d²6s²</tspan><tspan x="508" dy="11" class="s">Hafnium</tspan><tspan x="508" dy="11">178.49</tspan><tspan x="508" dy="11" class="s">Hf</tspan><tspan x="508" dy="11">72</tspan></text></g>
<g transform="rotate(100 508 697)"><text y="377"><tspan x="508">4f¹⁴5d³6s²</tspan><tspan x="508" dy="11" class="s">Tantalum</tspan><tspan x="508" dy="11">180.95</tspan><tspan x="508" dy="11" class="s">Ta</tspan><tspan x="508" dy="11">73</tspan></text></g>
<g transform="rotate(120 508 697)"><text y="377"><tspan x="508">4f¹⁴5d⁴6s²</tspan><tspan x="508" dy="11" class="s">Tungsten</tspan><tspan x="508" dy="11">183.85</tspan><tspan x="508" dy="11" class="s">W</tspan><tspan x="508" dy="11">74</tspan></text></g>
<g transform="rotate(140 508 697)"><text y="377"><tspan x="508">4f¹⁴5d⁵6s²</tspan><tspan x="508" dy="11" class="s">Rhenium</tspan><tspan x="508" dy="11">186.21</tspan><tspan x="508" dy="11" class="s">Re</tspan><tspan x="508" dy="11">75</tspan></text></g>
<g transform="rotate(160 508 697)"><text y="377"><tspan x="508">4f¹⁴5d⁶6s²</tspan><tspan x="508" dy="11" class="s">Osmium</tspan><tspan x="508" dy="11">190.23</tspan><tspan x="508" dy="11" class="s">Os</tspan><tspan x="508" dy="11">76</tspan></text></g>
<g transform="rotate(180 508 697)"><text y="377"><tspan x="508">4f¹⁴5d⁷6s²</tspan><tspan x="508" dy="11" class="s">Iridium</tspan><tspan x="508" dy="11">192.22</tspan><tspan x="508" dy="11" class="s">Ir</tspan><tspan x="508" dy="11">77</tspan></text></g>
<g transform="rotate(200 508 697)"><text y="377"><tspan x="508">4f¹⁴5d⁹6s¹</tspan><tspan x="508" dy="11" class="s">Platinum</tspan><tspan x="508" dy="11">195.08</tspan><tspan x="508" dy="11" class="s">Pt</tspan><tspan x="508" dy="11">78</tspan></text></g>
<g transform="rotate(220 508 697)"><text y="377"><tspan x="508">4f¹⁴5d¹⁰6s¹</tspan><tspan x="508" dy="11" class="s">Gold</tspan><tspan x="508" dy="11">196.97</tspan><tspan x="508" dy="11" class="s">Au</tspan><tspan x="508" dy="11">79</tspan></text></g>
<g transform="rotate(240 508 697)"><text y="377"><tspan x="508">4f¹⁴5d¹⁰6s²</tspan><tspan x="508" dy="11" class="l">Mercury</tspan><tspan x="508" dy="11">200.59</tspan><tspan x="508" dy="11" class="l">Hg</tspan><tspan x="508" dy="11">80</tspan></text></g>
<g transform="rotate(260 508 697)"><text y="377"><tspan x="508">4f¹⁴5d¹⁰6s²6p¹</tspan><tspan x="508" dy="11" class="s">Thallium</tspan><tspan x="508" dy="11">204.38</tspan><tspan x="508" dy="11" class="s">Tl</tspan><tspan x="508" dy="11">81</tspan></text></g>
<g transform="rotate(280 508 697)"><text y="377"><tspan x="508">4f¹⁴5d¹⁰6s²6p²</tspan><tspan x="508" dy="11" class="s">Lead</tspan><tspan x="508" dy="11">207.20</tspan><tspan x="508" dy="11" class="s">Pb</tspan><tspan x="508" dy="11">82</tspan></text></g>
<g transform="rotate(300 508 697)"><text y="377"><tspan x="508">4f¹⁴5d¹⁰6s²6p³</tspan><tspan x="508" dy="11" class="s">Bismuth</tspan><tspan x="508" dy="11">208.98</tspan><tspan x="508" dy="11" class="s">Bi</tspan><tspan x="508" dy="11">83</tspan></text></g>
<g transform="rotate(320 508 697)"><text y="377"><tspan x="508">4f¹⁴5d¹⁰6s²6p⁴</tspan><tspan x="508" dy="11" class="y">Polonium</tspan><tspan x="508" dy="11">(209.98)</tspan><tspan x="508" dy="11" class="y">Po</tspan><tspan x="508" dy="11">84</tspan></text></g>
<g transform="rotate(340 508 697)"><text y="377"><tspan x="508">4f¹⁴5d¹⁰6s²6p⁵</tspan><tspan x="508" dy="11" class="y">Astatine</tspan><tspan x="508" dy="11">(209.99)</tspan><tspan x="508" dy="11" class="y">At</tspan><tspan x="508" dy="11">85</tspan></text></g>
<g transform="rotate(0 508 697)"><text y="377"><tspan x="508">4f¹⁴5d¹⁰6s²6p⁶</tspan><tspan x="508" dy="11" class="g">Radon</tspan><tspan x="508" dy="11">(222.02)</tspan><tspan x="508" dy="11" class="g">Rn</tspan><tspan x="508" dy="11">86</tspan></text></g>
</g>
<!-- period 5 -->
<g class="n m c4" fill="#111">
<g transform="rotate(20 508 697)"><text y="434"><tspan x="508">5s¹</tspan><tspan x="508" dy="10.5" class="s">Rubidium</tspan><tspan x="508" dy="10.5">85.468</tspan><tspan x="508" dy="10.5" class="s">Rb</tspan><tspan x="508" dy="10.5">37</tspan></text></g>
<g transform="rotate(40 508 697)"><text y="434"><tspan x="508">5s²</tspan><tspan x="508" dy="10.5" class="s">Strontium</tspan><tspan x="508" dy="10.5">87.62</tspan><tspan x="508" dy="10.5" class="s">Sr</tspan><tspan x="508" dy="10.5">38</tspan></text></g>
<g transform="rotate(60 508 697)"><text y="434"><tspan x="508">4d¹5s²</tspan><tspan x="508" dy="10.5" class="s">Yttrium</tspan><tspan x="508" dy="10.5">88.906</tspan><tspan x="508" dy="10.5" class="s">Y</tspan><tspan x="508" dy="10.5">39</tspan></text></g>
<g transform="rotate(80 508 697)"><text y="434"><tspan x="508">4d²5s²</tspan><tspan x="508" dy="10.5" class="s">Zirconium</tspan><tspan x="508" dy="10.5">91.224</tspan><tspan x="508" dy="10.5" class="s">Zr</tspan><tspan x="508" dy="10.5">40</tspan></text></g>
<g transform="rotate(100 508 697)"><text y="434"><tspan x="508">4d⁴5s¹</tspan><tspan x="508" dy="10.5" class="s">Niobium</tspan><tspan x="508" dy="10.5">92.906</tspan><tspan x="508" dy="10.5" class="s">Nb</tspan><tspan x="508" dy="10.5">41</tspan></text></g>
<g transform="rotate(120 508 697)"><text y="434"><tspan x="508">4d⁵5s¹</tspan><tspan x="508" dy="10.5" class="s">Molybdenum</tspan><tspan x="508" dy="10.5">95.94</tspan><tspan x="508" dy="10.5" class="s">Mo</tspan><tspan x="508" dy="10.5">42</tspan></text></g>
<g transform="rotate(140 508 697)"><text y="434"><tspan x="508">4d⁵5s²</tspan><tspan x="508" dy="10.5" class="y">Technetium</tspan><tspan x="508" dy="10.5">(98.906)</tspan><tspan x="508" dy="10.5" class="y">Tc</tspan><tspan x="508" dy="10.5">43</tspan></text></g>
<g transform="rotate(160 508 697)"><text y="434"><tspan x="508">4d⁷5s¹</tspan><tspan x="508" dy="10.5" class="s">Ruthenium</tspan><tspan x="508" dy="10.5">101.07</tspan><tspan x="508" dy="10.5" class="s">Ru</tspan><tspan x="508" dy="10.5">44</tspan></text></g>
<g transform="rotate(180 508 697)"><text y="434"><tspan x="508">4d⁸5s¹</tspan><tspan x="508" dy="10.5" class="s">Rhodium</tspan><tspan x="508" dy="10.5">102.91</tspan><tspan x="508" dy="10.5" class="s">Rh</tspan><tspan x="508" dy="10.5">45</tspan></text></g>
<g transform="rotate(200 508 697)"><text y="434"><tspan x="508">4d¹⁰5s⁰</tspan><tspan x="508" dy="10.5" class="s">Palladium</tspan><tspan x="508" dy="10.5">106.42</tspan><tspan x="508" dy="10.5" class="s">Pd</tspan><tspan x="508" dy="10.5">46</tspan></text></g>
<g transform="rotate(220 508 697)"><text y="434"><tspan x="508">4d¹⁰5s¹</tspan><tspan x="508" dy="10.5" class="s">Silver</tspan><tspan x="508" dy="10.5">107.868</tspan><tspan x="508" dy="10.5" class="s">Ag</tspan><tspan x="508" dy="10.5">47</tspan></text></g>
<g transform="rotate(240 508 697)"><text y="434"><tspan x="508">4d¹⁰5s²</tspan><tspan x="508" dy="10.5" class="s">Cadmium</tspan><tspan x="508" dy="10.5">112.411</tspan><tspan x="508" dy="10.5" class="s">Cd</tspan><tspan x="508" dy="10.5">48</tspan></text></g>
<g transform="rotate(260 508 697)"><text y="434"><tspan x="508">4d¹⁰5s²5p¹</tspan><tspan x="508" dy="10.5" class="s">Indium</tspan><tspan x="508" dy="10.5">114.82</tspan><tspan x="508" dy="10.5" class="s">In</tspan><tspan x="508" dy="10.5">49</tspan></text></g>
<g transform="rotate(280 508 697)"><text y="434"><tspan x="508">4d¹⁰5s²5p²</tspan><tspan x="508" dy="10.5" class="s">Tin</tspan><tspan x="508" dy="10.5">118.71</tspan><tspan x="508" dy="10.5" class="s">Sn</tspan><tspan x="508" dy="10.5">50</tspan></text></g>
<g transform="rotate(300 508 697)"><text y="434"><tspan x="508">4d¹⁰5s²5p³</tspan><tspan x="508" dy="10.5" class="s">Antimony</tspan><tspan x="508" dy="10.5">121.76</tspan><tspan x="508" dy="10.5" class="s">Sb</tspan><tspan x="508" dy="10.5">51</tspan></text></g>
<g transform="rotate(320 508 697)"><text y="434"><tspan x="508">4d¹⁰5s²5p⁴</tspan><tspan x="508" dy="10.5" class="s">Tellurium</tspan><tspan x="508" dy="10.5">127.60</tspan><tspan x="508" dy="10.5" class="s">Te</tspan><tspan x="508" dy="10.5">52</tspan></text></g>
<g transform="rotate(340 508 697)"><text y="434"><tspan x="508">4d¹⁰5s²5p⁵</tspan><tspan x="508" dy="10.5" class="s">Iodine</tspan><tspan x="508" dy="10.5">126.904</tspan><tspan x="508" dy="10.5" class="s">I</tspan><tspan x="508" dy="10.5">53</tspan></text></g>
<g transform="rotate(0 508 697)"><text y="434"><tspan x="508">4d¹⁰5s²5p⁶</tspan><tspan x="508" dy="10.5" class="g">Xenon</tspan><tspan x="508" dy="10.5">131.29</tspan><tspan x="508" dy="10.5" class="g">Xe</tspan><tspan x="508" dy="10.5">54</tspan></text></g>
</g>
<!-- period 4 -->
<g class="n m c3" fill="#111">
<g transform="rotate(20 508 697)"><text y="489"><tspan x="508">4s¹</tspan><tspan x="508" dy="10.5" class="s">Potassium</tspan><tspan x="508" dy="10.5">39.098</tspan><tspan x="508" dy="10.5" class="s">K</tspan><tspan x="508" dy="10.5">19</tspan></text></g>
<g transform="rotate(40 508 697)"><text y="489"><tspan x="508">4s²</tspan><tspan x="508" dy="10.5" class="s">Calcium</tspan><tspan x="508" dy="10.5">40.078</tspan><tspan x="508" dy="10.5" class="s">Ca</tspan><tspan x="508" dy="10.5">20</tspan></text></g>
<g transform="rotate(60 508 697)"><text y="489"><tspan x="508">3d¹4s²</tspan><tspan x="508" dy="10.5" class="s">Scandium</tspan><tspan x="508" dy="10.5">44.956</tspan><tspan x="508" dy="10.5" class="s">Sc</tspan><tspan x="508" dy="10.5">21</tspan></text></g>
<g transform="rotate(80 508 697)"><text y="489"><tspan x="508">3d²4s²</tspan><tspan x="508" dy="10.5" class="s">Titanium</tspan><tspan x="508" dy="10.5">47.88</tspan><tspan x="508" dy="10.5" class="s">Ti</tspan><tspan x="508" dy="10.5">22</tspan></text></g>
<g transform="rotate(100 508 697)"><text y="489"><tspan x="508">3d³4s²</tspan><tspan x="508" dy="10.5" class="s">Vanadium</tspan><tspan x="508" dy="10.5">50.942</tspan><tspan x="508" dy="10.5" class="s">V</tspan><tspan x="508" dy="10.5">23</tspan></text></g>
<g transform="rotate(120 508 697)"><text y="489"><tspan x="508">3d⁵4s¹</tspan><tspan x="508" dy="10.5" class="s">Chromium</tspan><tspan x="508" dy="10.5">51.996</tspan><tspan x="508" dy="10.5" class="s">Cr</tspan><tspan x="508" dy="10.5">24</tspan></text></g>
<g transform="rotate(140 508 697)"><text y="489"><tspan x="508">3d⁵4s²</tspan><tspan x="508" dy="10.5" class="s">Manganese</tspan><tspan x="508" dy="10.5">54.938</tspan><tspan x="508" dy="10.5" class="s">Mn</tspan><tspan x="508" dy="10.5">25</tspan></text></g>
<g transform="rotate(160 508 697)"><text y="489"><tspan x="508">3d⁶4s²</tspan><tspan x="508" dy="10.5" class="s">Iron</tspan><tspan x="508" dy="10.5">55.847</tspan><tspan x="508" dy="10.5" class="s">Fe</tspan><tspan x="508" dy="10.5">26</tspan></text></g>
<g transform="rotate(180 508 697)"><text y="489"><tspan x="508">3d⁷4s²</tspan><tspan x="508" dy="10.5" class="s">Cobalt</tspan><tspan x="508" dy="10.5">58.933</tspan><tspan x="508" dy="10.5" class="s">Co</tspan><tspan x="508" dy="10.5">27</tspan></text></g>
<g transform="rotate(200 508 697)"><text y="489"><tspan x="508">3d⁸4s²</tspan><tspan x="508" dy="10.5" class="s">Nickel</tspan><tspan x="508" dy="10.5">58.693</tspan><tspan x="508" dy="10.5" class="s">Ni</tspan><tspan x="508" dy="10.5">28</tspan></text></g>
<g transform="rotate(220 508 697)"><text y="489"><tspan x="508">3d¹⁰4s¹</tspan><tspan x="508" dy="10.5" class="s">Copper</tspan><tspan x="508" dy="10.5">63.546</tspan><tspan x="508" dy="10.5" class="s">Cu</tspan><tspan x="508" dy="10.5">29</tspan></text></g>
<g transform="rotate(240 508 697)"><text y="489"><tspan x="508">3d¹⁰4s²</tspan><tspan x="508" dy="10.5" class="s">Zinc</tspan><tspan x="508" dy="10.5">65.39</tspan><tspan x="508" dy="10.5" class="s">Zn</tspan><tspan x="508" dy="10.5">30</tspan></text></g>
<g transform="rotate(260 508 697)"><text y="489"><tspan x="508">3d¹⁰4s²4p¹</tspan><tspan x="508" dy="10.5" class="s">Gallium</tspan><tspan x="508" dy="10.5">69.723</tspan><tspan x="508" dy="10.5" class="s">Ga</tspan><tspan x="508" dy="10.5">31</tspan></text></g>
<g transform="rotate(280 508 697)"><text y="489"><tspan x="508">3d¹⁰4s²4p²</tspan><tspan x="508" dy="10.5" class="s">Germanium</tspan><tspan x="508" dy="10.5">72.61</tspan><tspan x="508" dy="10.5" class="s">Ge</tspan><tspan x="508" dy="10.5">32</tspan></text></g>
<g transform="rotate(300 508 697)"><text y="489"><tspan x="508">3d¹⁰4s²4p³</tspan><tspan x="508" dy="10.5" class="s">Arsenic</tspan><tspan x="508" dy="10.5">74.922</tspan><tspan x="508" dy="10.5" class="s">As</tspan><tspan x="508" dy="10.5">33</tspan></text></g>
<g transform="rotate(320 508 697)"><text y="489"><tspan x="508">3d¹⁰4s²4p⁴</tspan><tspan x="508" dy="10.5" class="s">Selenium</tspan><tspan x="508" dy="10.5">78.96</tspan><tspan x="508" dy="10.5" class="s">Se</tspan><tspan x="508" dy="10.5">34</tspan></text></g>
<g transform="rotate(340 508 697)"><text y="489"><tspan x="508">3d¹⁰4s²4p⁵</tspan><tspan x="508" dy="10.5" class="l">Bromine</tspan><tspan x="508" dy="10.5">79.904</tspan><tspan x="508" dy="10.5" class="l">Br</tspan><tspan x="508" dy="10.5">35</tspan></text></g>
<g transform="rotate(0 508 697)"><text y="489"><tspan x="508">3d¹⁰4s²4p⁶</tspan><tspan x="508" dy="10.5" class="g">Krypton</tspan><tspan x="508" dy="10.5">83.80</tspan><tspan x="508" dy="10.5" class="g">Kr</tspan><tspan x="508" dy="10.5">36</tspan></text></g>
</g>
<!-- period 3 -->
<g class="n m" font-size="7.5" fill="#111">
<g transform="rotate(20 508 697)"><text y="544"><tspan x="508">3s¹</tspan><tspan x="508" dy="10" class="s">Sodium</tspan><tspan x="508" dy="10">22.990</tspan><tspan x="508" dy="10" class="s">Na</tspan><tspan x="508" dy="10">11</tspan></text></g>
<g transform="rotate(40 508 697)"><text y="544"><tspan x="508">3s²</tspan><tspan x="508" dy="10" class="s">Magnesium</tspan><tspan x="508" dy="10">24.305</tspan><tspan x="508" dy="10" class="s">Mg</tspan><tspan x="508" dy="10">12</tspan></text></g>
<g transform="rotate(260 508 697)"><text y="544"><tspan x="508">3s²3p¹</tspan><tspan x="508" dy="10" class="s">Aluminium</tspan><tspan x="508" dy="10">26.982</tspan><tspan x="508" dy="10" class="s">Al</tspan><tspan x="508" dy="10">13</tspan></text></g>
<g transform="rotate(280 508 697)"><text y="544"><tspan x="508">3s²3p²</tspan><tspan x="508" dy="10" class="s">Silicon</tspan><tspan x="508" dy="10">28.086</tspan><tspan x="508" dy="10" class="s">Si</tspan><tspan x="508" dy="10">14</tspan></text></g>
<g transform="rotate(300 508 697)"><text y="544"><tspan x="508">3s²3p³</tspan><tspan x="508" dy="10" class="s">Phosphorus</tspan><tspan x="508" dy="10">30.974</tspan><tspan x="508" dy="10" class="s">P</tspan><tspan x="508" dy="10">15</tspan></text></g>
<g transform="rotate(320 508 697)"><text y="544"><tspan x="508">3s²3p⁴</tspan><tspan x="508" dy="10" class="s">Sulphur</tspan><tspan x="508" dy="10">32.066</tspan><tspan x="508" dy="10" class="s">S</tspan><tspan x="508" dy="10">16</tspan></text></g>
<g transform="rotate(340 508 697)"><text y="544"><tspan x="508">3s²3p⁵</tspan><tspan x="508" dy="10" class="g">Chlorine</tspan><tspan x="508" dy="10">35.453</tspan><tspan x="508" dy="10" class="g">Cl</tspan><tspan x="508" dy="10">17</tspan></text></g>
<g transform="rotate(0 508 697)"><text y="544"><tspan x="508">3s²3p⁶</tspan><tspan x="508" dy="10" class="g">Argon</tspan><tspan x="508" dy="10">39.948</tspan><tspan x="508" dy="10" class="g">Ar</tspan><tspan x="508" dy="10">18</tspan></text></g>
</g>
<!-- period 2 -->
<g class="n m c2" fill="#111">
<g transform="rotate(20 508 697)"><text y="596"><tspan x="508">2s¹</tspan><tspan x="508" dy="9.5" class="s">Lithium</tspan><tspan x="508" dy="9.5">6.941</tspan><tspan x="508" dy="9.5" class="s">Li</tspan><tspan x="508" dy="9.5">3</tspan></text></g>
<g transform="rotate(40 508 697)"><text y="596"><tspan x="508">2s²</tspan><tspan x="508" dy="9.5" class="s">Beryllium</tspan><tspan x="508" dy="9.5">9.0122</tspan><tspan x="508" dy="9.5" class="s">Be</tspan><tspan x="508" dy="9.5">4</tspan></text></g>
<g transform="rotate(260 508 697)"><text y="596"><tspan x="508">2s²2p¹</tspan><tspan x="508" dy="9.5" class="s">Boron</tspan><tspan x="508" dy="9.5">10.811</tspan><tspan x="508" dy="9.5" class="s">B</tspan><tspan x="508" dy="9.5">5</tspan></text></g>
<g transform="rotate(280 508 697)"><text y="596"><tspan x="508">2s²2p²</tspan><tspan x="508" dy="9.5" class="s">Carbon</tspan><tspan x="508" dy="9.5">12.011</tspan><tspan x="508" dy="9.5" class="s">C</tspan><tspan x="508" dy="9.5">6</tspan></text></g>
<g transform="rotate(300 508 697)"><text y="596"><tspan x="508">2s²2p³</tspan><tspan x="508" dy="9.5" class="g">Nitrogen</tspan><tspan x="508" dy="9.5">14.007</tspan><tspan x="508" dy="9.5" class="g">N</tspan><tspan x="508" dy="9.5">7</tspan></text></g>
<g transform="rotate(320 508 697)"><text y="596"><tspan x="508">2s²2p⁴</tspan><tspan x="508" dy="9.5" class="g">Oxygen</tspan><tspan x="508" dy="9.5">15.999</tspan><tspan x="508" dy="9.5" class="g">O</tspan><tspan x="508" dy="9.5">8</tspan></text></g>
<g transform="rotate(340 508 697)"><text y="596"><tspan x="508">2s²2p⁵</tspan><tspan x="508" dy="9.5" class="g">Fluorine</tspan><tspan x="508" dy="9.5">18.998</tspan><tspan x="508" dy="9.5" class="g">F</tspan><tspan x="508" dy="9.5">9</tspan></text></g>
<g transform="rotate(0 508 697)"><text y="596"><tspan x="508">2s²2p⁶</tspan><tspan x="508" dy="9.5" class="g">Neon</tspan><tspan x="508" dy="9.5">20.1797</tspan><tspan x="508" dy="9.5" class="g">Ne</tspan><tspan x="508" dy="9.5">10</tspan></text></g>
</g>
<circle cx="508" cy="697" r="58" fill="url(#core)" stroke="#111" stroke-width="2"/>
<polygon points="508,697 500,640 516,640" fill="#fff200" stroke="#111" stroke-width="1.5"/>
<g class="n m" font-size="5" fill="#111"><text x="508" y="648">1s²</text><text x="508" y="655" class="g">Helium</text><text x="508" y="662">4.0026</text><text x="508" y="669" class="g">He</text><text x="508" y="676">2</text></g>
<g class="n m">
<text x="508" y="711" font-size="13" fill="#111">1s¹</text>
<text x="508" y="723" font-size="11" fill="#1596d4" stroke="#fff" stroke-width="2" paint-order="stroke">Hydrogen</text>
<text x="508" y="734" font-size="10.5" fill="#111">1.0079</text>
<text x="508" y="748" font-size="16" fill="#1596d4" stroke="#fff" stroke-width="2" paint-order="stroke">H</text>
<text x="508" y="755" font-size="8" fill="#111">1</text>
</g>
</g>

<g fill="none" stroke="#cc2b22" stroke-width="3" marker-end="url(#ah)">
<polyline points="785,585 1022,497 995,412"/>
<polyline points="785,600 1053,493 1034,430"/>
<polyline points="1085,578 1062,517 786,620"/>
<polyline points="1060,600 1037,537 786,636"/>
</g>

<line x1="1318" y1="683" x2="1352" y2="683" stroke="#111" stroke-width="2"/>
<rect x="1352" y="673" width="130" height="20" fill="url(#hy)"/>
<text x="1357" y="689" class="n" font-size="15" fill="#111" textLength="118" lengthAdjust="spacingAndGlyphs">AUXILIARY CIRCLE</text>
<line x1="940" y1="958" x2="977" y2="958" stroke="#111" stroke-width="2"/>
<rect x="978" y="948" width="125" height="20" fill="#c9e6a0"/>
<text x="982" y="964" class="n" font-size="15" fill="#111" textLength="116" lengthAdjust="spacingAndGlyphs">PRINCIPAL CIRCLE</text>

<text x="1280" y="774" class="sf m" font-size="20" fill="#111">KEY</text>
<polygon points="1228,781 1324,781 1313,872 1238,872" fill="#f0c08a" stroke="#555" stroke-width="1.5"/>
<g class="n m">
<text x="1275" y="798" font-size="17" fill="#111">1s¹</text>
<text x="1276" y="818" font-size="16" fill="#d7261e" textLength="66" lengthAdjust="spacingAndGlyphs">Hydrogen</text>
<text x="1276" y="837" font-size="16" fill="#111">1.0079</text>
<text x="1275" y="857" font-size="22" fill="#d7261e">H</text>
<text x="1276" y="873" font-size="16" fill="#111">1</text>
</g>
<g stroke="#111" stroke-width="1.5"><line x1="1290" y1="792" x2="1337" y2="792"/><line x1="1312" y1="812" x2="1337" y2="812"/><line x1="1303" y1="831" x2="1337" y2="831"/><line x1="1290" y1="849" x2="1337" y2="849"/><line x1="1283" y1="866" x2="1336" y2="866"/></g>
<g class="n" font-size="17">
<text x="1340" y="798" fill="#111" textLength="198" lengthAdjust="spacingAndGlyphs">ELECTRONIC CONFIGURATION</text>
<text x="1340" y="818" fill="#d7261e" textLength="37" lengthAdjust="spacingAndGlyphs">NAME</text>
<text x="1339" y="837" fill="#111" textLength="94" lengthAdjust="spacingAndGlyphs">ATOMIC MASS</text>
<text x="1339" y="855" fill="#d7261e" textLength="56" lengthAdjust="spacingAndGlyphs">SYMBOL</text>
<text x="1337" y="873" fill="#111" textLength="113" lengthAdjust="spacingAndGlyphs">ATOMIC NUMBER</text>
</g>
<rect x="1190" y="913" width="393" height="76" fill="url(#note)"/>
<g class="n" font-size="13.5">
<text x="1205" y="930" fill="#d2321e">NOTE :</text>
<text x="1205" y="946" textLength="357" lengthAdjust="spacingAndGlyphs"><tspan fill="#d2321e">1-</tspan><tspan fill="#111"> Masses in parantheses ( ) are the masses of most stable isotopes.</tspan></text>
<text x="1205" y="962" textLength="343" lengthAdjust="spacingAndGlyphs"><tspan fill="#d2321e">2-</tspan><tspan fill="#111"> The identity of elements with atomic numbers 113, 115 and 117</tspan></text>
<text x="1221" y="978" fill="#111" textLength="123" lengthAdjust="spacingAndGlyphs">is yet to be established.</text>
</g>
<g class="sf m">
<text x="1367" y="1043" font-size="14" fill="#111">DESIGNED BY :</text>
<text x="1367" y="1074" font-size="28" fill="#d7261e">KAMAL AKHTAR</text>
<text x="1372" y="1087" font-size="13.5" fill="#111" textLength="424" lengthAdjust="spacingAndGlyphs">INSTITUTE OF NICE TEACHING EDUCATION &amp; LEARNING</text>
<text x="1367" y="1105" font-size="14" fill="#1e8a3c" letter-spacing="3">(INTEL)</text>
<text x="1367" y="1124" font-size="14" fill="#111">1 , RAJ COLONY, BEHIND J.V.JAIN INTER COLLEGE</text>
<text x="1367" y="1143" font-size="14" fill="#111">OLD KALSIA ROAD, SAHARANPUR - 247001 (U.P.), INDIA</text>
<text x="1367" y="1161" font-size="14" fill="#111">PHONE NUMBERS : +91-9897313110, +91-9917517861</text>
<text x="1367" y="1179" font-size="14" fill="#111">e-mail: kamalakhtar@ymail.com</text>
</g>
</svg>
</body></html>
